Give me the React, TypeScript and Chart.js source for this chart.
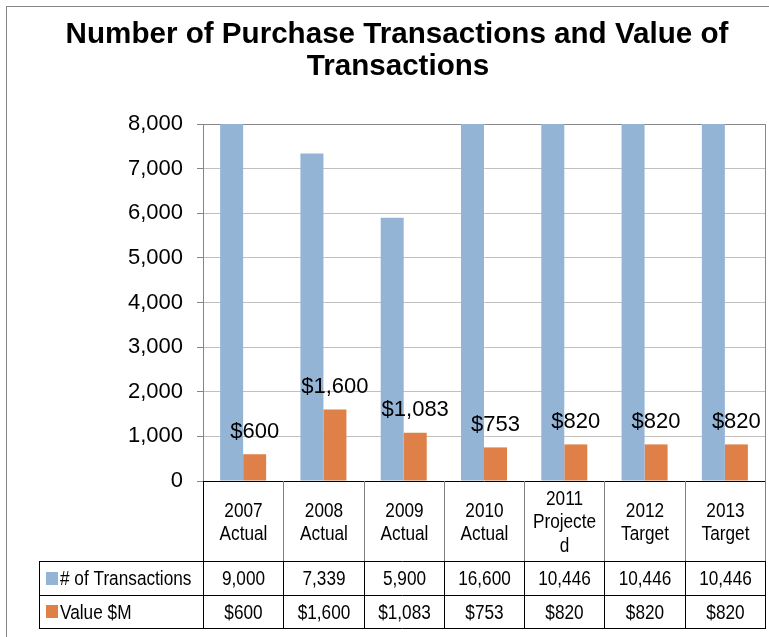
import React, { useEffect, useRef } from 'react';
import { Chart, registerables } from 'chart.js';

Chart.register(...registerables);

// ---- data ----
const categories = ['2007 Actual', '2008 Actual', '2009 Actual', '2010 Actual', '2011 Projected', '2012 Target', '2013 Target'];
const headerLines = [
  ['2007', 'Actual'],
  ['2008', 'Actual'],
  ['2009', 'Actual'],
  ['2010', 'Actual'],
  ['2011', 'Projecte', 'd'],
  ['2012', 'Target'],
  ['2013', 'Target'],
];
const transactions = [9000, 7339, 5900, 16600, 10446, 10446, 10446];
const valueM = [600, 1600, 1083, 753, 820, 820, 820];
const seriesNames = ['# of Transactions', 'Value $M'];
const titleLines = ['Number of Purchase Transactions and Value of', 'Transactions'];
const yMin = 0;
const yMax = 8000;
const yStep = 1000;

// ---- styles ----
const BLUE = '#94B4D6';
const ORANGE = '#DE8048';
const SANS = '"Liberation Sans", Arial, sans-serif';
const NARROW = '"Liberation Sans Narrow", "Arial Narrow"';
const TABLE_FONT = 20.5;

const fmtNum = (v: number) => v.toLocaleString('en-US');
const fmtMoney = (v: number) => '$' + v.toLocaleString('en-US');

let narrowOK: boolean | null = null;
function narrowText(ctx: CanvasRenderingContext2D, text: string, x: number, y: number, align: CanvasTextAlign) {
  if (narrowOK === null) {
    ctx.save();
    ctx.font = `${TABLE_FONT}px ${NARROW}, monospace`;
    const w1 = ctx.measureText('10,446 Transactions').width;
    ctx.font = `${TABLE_FONT}px monospace`;
    const w2 = ctx.measureText('10,446 Transactions').width;
    ctx.restore();
    narrowOK = Math.abs(w1 - w2) > 0.5;
  }
  ctx.save();
  ctx.fillStyle = '#000';
  ctx.textBaseline = 'alphabetic';
  ctx.textAlign = align;
  if (narrowOK) {
    ctx.font = `${TABLE_FONT}px ${NARROW}, ${SANS}`;
    ctx.fillText(text, x, y);
  } else {
    const s = 0.84;
    ctx.font = `${TABLE_FONT}px ${SANS}`;
    ctx.translate(x, y);
    ctx.scale(s, 1);
    ctx.fillText(text, 0, 0);
  }
  ctx.restore();
}

const framePlugin = {
  id: 'framePlugin',
  beforeDraw(chart: any) {
    const ctx = chart.ctx as CanvasRenderingContext2D;
    ctx.save();
    ctx.fillStyle = '#fff';
    ctx.fillRect(0, 0, chart.width, chart.height);
    ctx.strokeStyle = '#868686';
    ctx.lineWidth = 1;
    ctx.strokeRect(6.5, 6.5, chart.width + 20, chart.height + 20);
    // title
    ctx.fillStyle = '#000';
    ctx.textAlign = 'center';
    ctx.textBaseline = 'alphabetic';
    ctx.font = `bold 29.6px ${SANS}`;
    ctx.fillText(titleLines[0], 397, 43);
    ctx.fillText(titleLines[1], 398, 75);
    ctx.restore();
  },
};

const labelsPlugin = {
  id: 'labelsPlugin',
  afterDatasetsDraw(chart: any) {
    const ctx = chart.ctx as CanvasRenderingContext2D;
    const meta = chart.getDatasetMeta(1);
    ctx.save();
    ctx.fillStyle = '#000';
    ctx.font = `22px ${SANS}`;
    ctx.textAlign = 'center';
    ctx.textBaseline = 'alphabetic';
    meta.data.forEach((el: any, i: number) => {
      ctx.fillText(fmtMoney(valueM[i]), el.x, el.y - 16.5);
    });
    ctx.restore();
  },
  afterDraw(chart: any) {
    const ctx = chart.ctx as CanvasRenderingContext2D;
    const area = chart.chartArea;
    const xs = chart.scales.x;
    const n = categories.length;
    const cw = (area.right - area.left) / n;
    const bounds: number[] = [];
    for (let i = 0; i <= n; i++) bounds.push(Math.round(xs.getPixelForValue(0) - cw / 2 + i * cw));
    const headTop = Math.round(area.bottom);
    const headBottom = 561;
    const row1Bottom = 595;
    const row2Bottom = 628;
    const legendLeft = 39;

    ctx.save();
    ctx.lineWidth = 1;
    // plot right border
    ctx.strokeStyle = '#868686';
    ctx.beginPath();
    ctx.moveTo(Math.round(area.right) + 0.5, area.top);
    ctx.lineTo(Math.round(area.right) + 0.5, area.bottom);
    ctx.stroke();

    // header verticals
    for (let i = 0; i <= n; i++) {
      ctx.strokeStyle = i === 0 ? '#000' : '#7f7f7f';
      ctx.beginPath();
      ctx.moveTo(bounds[i] + 0.5, headTop);
      ctx.lineTo(bounds[i] + 0.5, headBottom);
      ctx.stroke();
    }
    // table rows
    ctx.strokeStyle = '#000';
    [headBottom, row1Bottom, row2Bottom].forEach((y) => {
      ctx.beginPath();
      ctx.moveTo(legendLeft, y + 0.5);
      ctx.lineTo(bounds[n] + 1, y + 0.5);
      ctx.stroke();
    });
    [legendLeft, ...bounds].forEach((x) => {
      ctx.beginPath();
      ctx.moveTo(x + 0.5, headBottom);
      ctx.lineTo(x + 0.5, row2Bottom + 1);
      ctx.stroke();
    });
    ctx.restore();

    // header text
    const capHalf = 0.716 * TABLE_FONT / 2;
    const lh = 23.3;
    const headMid = (headTop + headBottom) / 2;
    headerLines.forEach((lines, i) => {
      const cx = (bounds[i] + bounds[i + 1]) / 2 + 0.5;
      const first = headMid + capHalf - ((lines.length - 1) * lh) / 2;
      lines.forEach((t, k) => narrowText(ctx, t, cx, first + k * lh, 'center'));
    });

    // rows
    const rows = [
      { top: headBottom, bottom: row1Bottom, color: BLUE, name: seriesNames[0], vals: transactions.map(fmtNum) },
      { top: row1Bottom, bottom: row2Bottom, color: ORANGE, name: seriesNames[1], vals: valueM.map(fmtMoney) },
    ];
    rows.forEach((r) => {
      const mid = (r.top + r.bottom) / 2;
      ctx.save();
      ctx.fillStyle = r.color;
      ctx.fillRect(46, Math.round(mid - 6.5), 12, 13);
      ctx.restore();
      narrowText(ctx, r.name, 60, mid + capHalf, 'left');
      r.vals.forEach((v, i) => {
        const cx = (bounds[i] + bounds[i + 1]) / 2 + 0.5;
        narrowText(ctx, v, cx, mid + capHalf, 'center');
      });
    });
  },
};

export default function App() {
  const ref = useRef<HTMLCanvasElement | null>(null);
  useEffect(() => {
    if (!ref.current) return;
    const chart = new Chart(ref.current, {
      type: 'bar',
      data: {
        labels: categories,
        datasets: [
          { label: seriesNames[0], data: transactions, backgroundColor: BLUE, categoryPercentage: 0.573, barPercentage: 1 },
          { label: seriesNames[1], data: valueM, backgroundColor: ORANGE, categoryPercentage: 0.573, barPercentage: 1 },
        ],
      },
      options: {
        responsive: false,
        animation: false,
        devicePixelRatio: 1,
        layout: { padding: { left: 0, top: 124, right: 4, bottom: 156 } },
        plugins: {
          legend: { display: false },
          title: { display: false },
          tooltip: { enabled: false },
        },
        scales: {
          x: { display: false },
          y: {
            min: yMin,
            max: yMax,
            afterFit: (scale: any) => {
              scale.width = 203;
            },
            ticks: {
              stepSize: yStep,
              color: '#000',
              padding: 14,
              font: { family: SANS, size: 22 },
              callback: (v: any) => fmtNum(Number(v)),
            },
            grid: {
              tickLength: 6,
              color: (c: any) => (c.tick && c.tick.value === 0 ? '#000' : c.tick && c.tick.value === yMax ? '#868686' : '#C0C0C0'),
              tickColor: '#868686',
            },
            border: { display: true, color: '#868686' },
          },
        },
      },
      plugins: [framePlugin, labelsPlugin],
    } as any);
    return () => chart.destroy();
  }, []);
  return (
    <div style={{ position: 'fixed', left: 0, top: 0, width: 769, height: 637, background: '#fff' }}>
      <canvas ref={ref} width={769} height={637} style={{ display: 'block' }} />
    </div>
  );
}
